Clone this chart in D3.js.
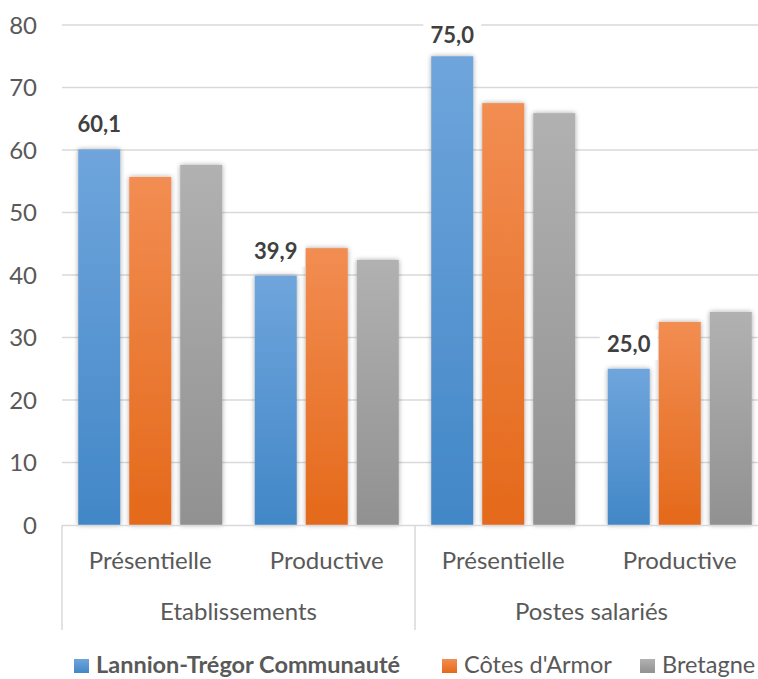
<!DOCTYPE html>
<html><head><meta charset="utf-8">
<script src="https://cdn.jsdelivr.net/npm/d3@7"></script>
<style>
html,body{margin:0;padding:0;background:#fff;overflow:hidden;}
svg{display:block;font-family:Lato,"Open Sans",sans-serif;}
</style></head>
<body>
<svg id="chart" width="758" height="679"></svg>
<script>
// ---- data ----
const groups = ["Etablissements", "Postes salariés"];
const categories = ["Présentielle", "Productive", "Présentielle", "Productive"];
const categoryGroup = [0, 0, 1, 1];
const seriesNames = ["Lannion-Trégor Communauté", "Côtes d'Armor", "Bretagne"];
const lannion = [60.1, 39.9, 75.0, 25.0];
const cotes = [55.7, 44.3, 67.5, 32.5];
const bretagne = [57.6, 42.4, 65.9, 34.1];
const seriesValues = [lannion, cotes, bretagne];
const labelledSeries = [true, false, false];
const yTicks = [0, 10, 20, 30, 40, 50, 60, 70, 80];

// ---- styles ----
const gradients = [
  ["#6fa5dc", "#4287c7"],
  ["#f28d52", "#e4691a"],
  ["#b1b1b1", "#919191"]
];
const textColor = "#595959";

const svg = d3.select("#chart");
const W = 758, H = 679;
const plotLeft = 62, plotRight = 768, plotTop = 25, plotBottom = 525;

const defs = svg.append("defs");
gradients.forEach((g, i) => {
  const lg = defs.append("linearGradient").attr("id", "grad" + i)
    .attr("x1", 0).attr("y1", 0).attr("x2", 0).attr("y2", 1);
  lg.append("stop").attr("offset", "0%").attr("stop-color", g[0]);
  lg.append("stop").attr("offset", "100%").attr("stop-color", g[1]);
});
const f = defs.append("filter").attr("id", "shadow")
  .attr("x", "-30%").attr("y", "-10%").attr("width", "160%").attr("height", "120%");
f.append("feDropShadow").attr("dx", 0).attr("dy", 0).attr("stdDeviation", 2.5)
  .attr("flood-color", "#000").attr("flood-opacity", 0.35);

const x0 = d3.scaleBand().domain(d3.range(categories.length)).range([plotLeft, plotRight]).paddingInner(0).paddingOuter(0);
const x1 = d3.scaleBand().domain(d3.range(seriesNames.length)).range([0, x0.bandwidth()])
  .paddingInner(0.176).paddingOuter(0.318);
const y = d3.scaleLinear().domain([0, 80]).range([plotBottom, plotTop]);

// gridlines
svg.append("g").selectAll("line").data(yTicks.filter(t => t > 0)).join("line")
  .attr("x1", plotLeft).attr("x2", W)
  .attr("y1", d => y(d)).attr("y2", d => y(d))
  .attr("stroke", "#d9d9d9").attr("stroke-width", 1.5);

// y axis labels
const yAxis = d3.axisLeft(y).tickValues(yTicks).tickSize(0).tickPadding(0).tickFormat(d3.format("d"));
const ya = svg.append("g").attr("transform", "translate(37,0)").call(yAxis);
ya.select(".domain").remove();
ya.selectAll("text").attr("font-size", 24).attr("fill", textColor)
  .attr("font-family", "Lato, 'Open Sans', sans-serif").attr("dy", "0.35em");

// bars
const barG = svg.append("g");
seriesValues.forEach((vals, s) => {
  barG.append("g").selectAll("rect").data(vals).join("rect")
    .attr("x", (d, i) => x0(i) + x1(s))
    .attr("width", x1.bandwidth())
    .attr("y", d => y(d))
    .attr("height", d => y(0) - y(d))
    .attr("fill", "url(#grad" + s + ")")
    .attr("filter", "url(#shadow)");
});

// axis lines
svg.append("line").attr("x1", plotLeft).attr("x2", W).attr("y1", plotBottom + 0.5).attr("y2", plotBottom + 0.5)
  .attr("stroke", "#d9d9d9").attr("stroke-width", 1.5);
const sepX = [plotLeft, x0(2), plotRight];
svg.append("g").selectAll("line").data(sepX).join("line")
  .attr("x1", d => d).attr("x2", d => d).attr("y1", plotBottom).attr("y2", 630)
  .attr("stroke", "#d9d9d9").attr("stroke-width", 1.5);

// category labels
svg.append("g").selectAll("text").data(categories).join("text")
  .attr("x", (d, i) => x0(i) + x0.bandwidth() / 2).attr("y", 569)
  .attr("text-anchor", "middle").attr("font-size", 24).attr("fill", textColor).text(d => d);
svg.append("g").selectAll("text").data(groups).join("text")
  .attr("x", (d, gi) => {
    const idx = d3.range(categories.length).filter(i => categoryGroup[i] === gi);
    return (x0(idx[0]) + x0(idx[idx.length - 1]) + x0.bandwidth()) / 2;
  }).attr("y", 620)
  .attr("text-anchor", "middle").attr("font-size", 24).attr("fill", textColor).text(d => d);

// data labels
const fmt = v => v.toFixed(1).replace(".", ",");
seriesValues.forEach((vals, s) => {
  if (!labelledSeries[s]) return;
  const lg = svg.append("g").selectAll("g").data(vals).join("g")
    .attr("transform", (d, i) => {
      const cx = x0(i) + x1(s) + x1.bandwidth() / 2;
      const by = Math.max(y(d) - 17, y(80) + 18);
      return `translate(${cx},${by})`;
    });
  lg.append("rect").attr("x", -29).attr("y", -22).attr("width", 58).attr("height", 30).attr("fill", "#fff");
  lg.append("text").attr("text-anchor", "middle").attr("font-size", 22).attr("font-weight", "bold")
    .attr("fill", "#404040").text(d => fmt(d));
});

// legend
const legendX = [74, 442, 640];
const leg = svg.append("g").selectAll("g").data(seriesNames).join("g")
  .attr("transform", (d, i) => `translate(${legendX[i]},659)`);
leg.append("rect").attr("width", 15).attr("height", 14).attr("fill", (d, i) => "url(#grad" + i + ")");
leg.append("text").attr("x", 22).attr("y", 14).attr("font-size", 23.5).attr("fill", textColor)
  .attr("font-weight", (d, i) => i === 0 ? "bold" : "normal").text(d => d);
</script>
</body></html>
